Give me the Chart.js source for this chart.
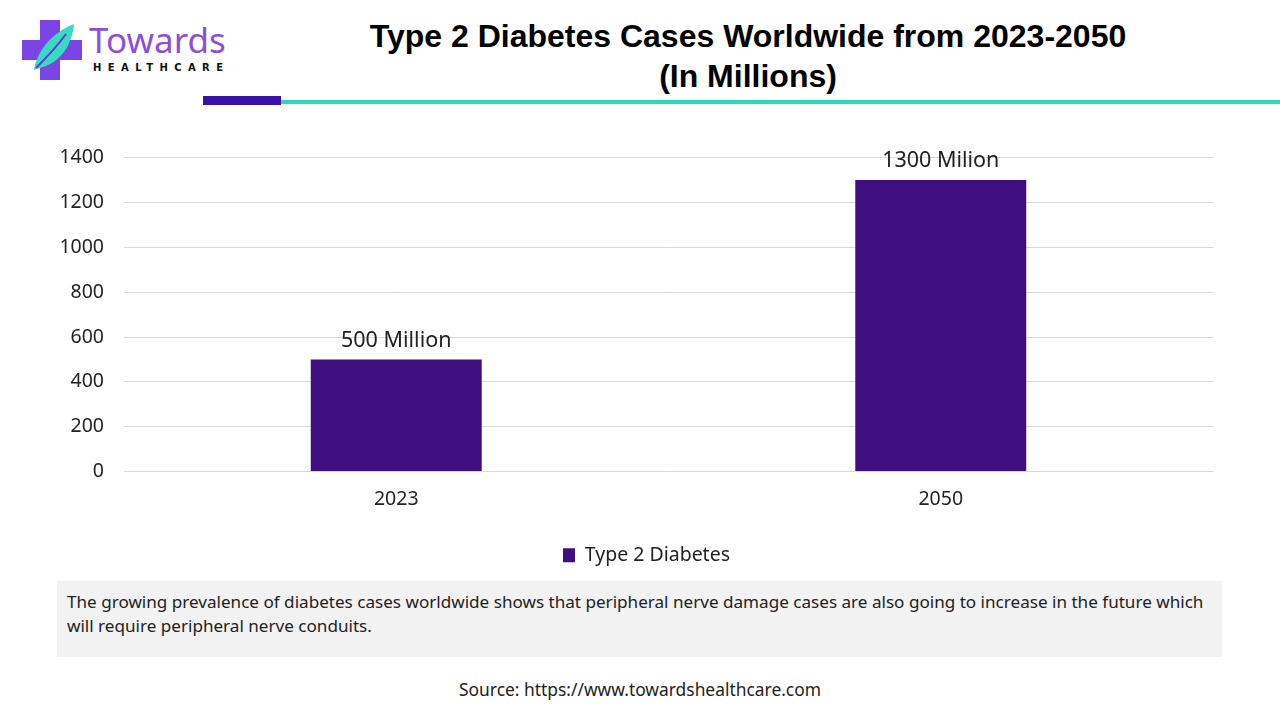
<!DOCTYPE html>
<html>
<head>
<meta charset="utf-8">
<script src="https://cdn.jsdelivr.net/npm/chart.js@4.4.1/dist/chart.umd.min.js"></script>
<style>
  html, body { margin: 0; padding: 0; background: #fff; }
  body { width: 1280px; height: 720px; position: relative; overflow: hidden; font-family: "Noto Sans", sans-serif; }
  .logo { position: absolute; left: 20px; top: 18px; }
  .brand { position: absolute; left: 89px; top: 20px; color: #8c4fdc; font-family: "Noto Sans", sans-serif; font-size: 35px; line-height: 40px; }
  .brand-sub { position: absolute; left: 93px; top: 62px; font-family: "DejaVu Sans", sans-serif; font-weight: bold; font-size: 10px; letter-spacing: 6.4px; color: #111; }
  .title { position: absolute; left: 280px; width: 936px; top: 16px; text-align: center; font-family: "Liberation Sans", Arial, sans-serif; font-weight: bold; font-size: 32px; line-height: 40px; color: #000; }
  .bar-purple { position: absolute; left: 203px; top: 96px; width: 78px; height: 9px; background: #3b12a8; }
  .bar-teal { position: absolute; left: 281px; top: 100px; width: 999px; height: 4px; background: #2fd8b4; }
  .chart-box { position: absolute; left: 0; top: 126px; width: 1280px; height: 449px; }
  .note { position: absolute; left: 57px; top: 581px; width: 1150px; height: 58px; padding: 9px 5px 9px 10px; background: #f2f2f2; font-size: 17.1px; line-height: 24px; color: #222; }
  .source { position: absolute; left: 0; width: 1280px; top: 677px; text-align: center; font-size: 17.4px; color: #222; }
</style>
</head>
<body>
<svg class="logo" width="64" height="64" viewBox="0 0 64 64">
  <path d="M20 2 H40 V22 H62 V42 H40 V62 H20 V42 H2 V22 H20 Z" fill="#7b45e6"/>
  <path d="M14 52 C18 30 34 14 54 6 C52 26 42 44 20 50 Z" fill="#36dcc0"/>
  <path d="M16 50 C26 40 36 30 46 16" stroke="#6a34d6" stroke-width="2" fill="none"/>
</svg>
<div class="brand">Towards</div>
<div class="brand-sub">HEALTHCARE</div>
<div class="title">Type 2 Diabetes Cases Worldwide from 2023-2050<br>(In Millions)</div>
<div class="bar-purple"></div>
<div class="bar-teal"></div>
<div class="chart-box"><canvas id="diabetesChart"></canvas></div>
<div class="note">The growing prevalence of diabetes cases worldwide shows that peripheral nerve damage cases are also going to increase in the future which will require peripheral nerve conduits.</div>
<div class="source">Source: https://www.towardshealthcare.com</div>

<script>
// Données du graphique
const years = ['2023', '2050'];
const diabetesCases = [500, 1300];
const valueLabels = ['500 Million', '1300 Milion'];
const yTicks = [0, 200, 400, 600, 800, 1000, 1200, 1400];

// Étiquettes au-dessus des barres
const barLabels = {
    id: 'barLabels',
    afterDatasetsDraw(chart) {
        const ctx = chart.ctx;
        const meta = chart.getDatasetMeta(0);
        ctx.save();
        ctx.font = '21.5px "Noto Sans"';
        ctx.fillStyle = '#222';
        ctx.textAlign = 'center';
        ctx.textBaseline = 'middle';
        meta.data.forEach((bar, i) => {
            ctx.fillText(valueLabels[i], bar.x, bar.y - 19);
        });
        ctx.restore();
    }
};

// Recentrer la légende sur la page
const legendShift = {
    id: 'legendShift',
    afterLayout(chart) {
        if (chart.legend) {
            chart.legend.left += 40;
            chart.legend.right += 40;
        }
    }
};

document.addEventListener('DOMContentLoaded', function() {
    Chart.defaults.font.family = '"Noto Sans", sans-serif';
    Chart.defaults.color = '#222';

    const ctx = document.getElementById('diabetesChart').getContext('2d');
    new Chart(ctx, {
        type: 'bar',
        data: {
            labels: years,
            datasets: [{
                label: 'Type 2 Diabetes',
                data: diabetesCases,
                backgroundColor: '#3f0f7f',
                categoryPercentage: 1,
                barPercentage: 0.314
            }]
        },
        options: {
            responsive: true,
            maintainAspectRatio: false,
            animation: false,
            layout: {
                padding: { top: 23, right: 67, left: 0, bottom: 0 }
            },
            plugins: {
                legend: {
                    position: 'bottom',
                    labels: {
                        boxWidth: 12,
                        boxHeight: 14,
                        padding: 14,
                        font: { size: 19.5 },
                        color: '#222'
                    }
                },
                tooltip: { enabled: false }
            },
            scales: {
                x: {
                    grid: { display: false },
                    border: { display: false },
                    ticks: { font: { size: 19.5 }, padding: 8 },
                    afterFit: scale => { scale.height = 60; }
                },
                y: {
                    min: 0,
                    max: 1400,
                    afterBuildTicks: scale => { scale.ticks = yTicks.map(v => ({ value: v })); },
                    grid: { color: '#d9d9d9', drawTicks: false },
                    border: { display: false },
                    ticks: { font: { size: 19.5 }, padding: 20, callback: value => String(value) },
                    afterFit: scale => { scale.width = 124; }
                }
            }
        },
        plugins: [barLabels, legendShift]
    });
});
</script>
</body>
</html>
